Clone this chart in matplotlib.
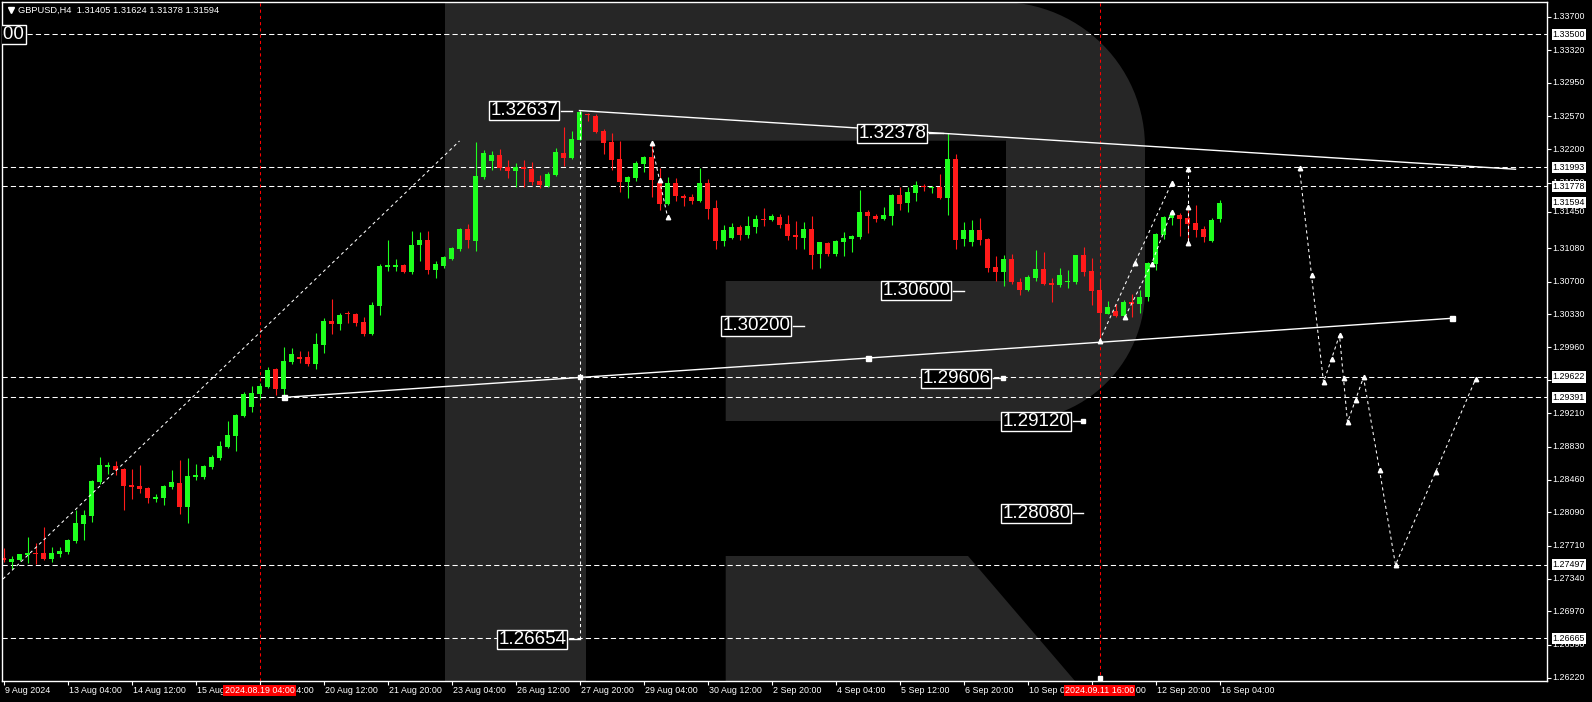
import matplotlib
matplotlib.use("Agg")
import numpy as np
import matplotlib.pyplot as plt
from matplotlib import font_manager
from matplotlib.patches import Polygon

# GBPUSD H4 candles (bar index = position from the left)
opens = [1.27577, 1.27531, 1.27551, 1.27607, 1.27630, 1.27630, 1.27562, 1.27619, 1.27641, 1.27765,
         1.27958, 1.28049, 1.28434, 1.28604, 1.28616, 1.28582, 1.28400, 1.28389, 1.28366, 1.28241,
         1.28253, 1.28377, 1.28423, 1.28151, 1.28491, 1.28491, 1.28604, 1.28705, 1.28830, 1.28954,
         1.29180, 1.29282, 1.29430, 1.29508, 1.29713, 1.29486, 1.29792, 1.29849, 1.29849, 1.29768,
         1.29984, 1.30255, 1.30221, 1.30346, 1.30334, 1.30244, 1.30107, 1.30424, 1.30866, 1.30866,
         1.30889, 1.30810, 1.31116, 1.31172, 1.30832, 1.30878, 1.30957, 1.31070, 1.31297, 1.31160,
         1.31885, 1.32066, 1.32134, 1.31998, 1.31953, 1.31998, 1.31975, 1.31839, 1.31783, 1.31907,
         1.32156, 1.32099, 1.32303, 1.32593, 1.32576, 1.32406, 1.32281, 1.32089, 1.31829, 1.31874,
         1.32032, 1.32112, 1.31818, 1.31580, 1.31818, 1.31670, 1.31659, 1.31614, 1.31818, 1.31534,
         1.31160, 1.31194, 1.31319, 1.31228, 1.31319, 1.31410, 1.31398, 1.31432, 1.31353, 1.31228,
         1.31194, 1.31296, 1.31014, 1.31137, 1.31014, 1.31149, 1.31183, 1.31205, 1.31489, 1.31444,
         1.31410, 1.31444, 1.31682, 1.31591, 1.31704, 1.31784, 1.31761, 1.31772, 1.31648, 1.32089,
         1.31183, 1.31149, 1.31285, 1.31183, 1.30867, 1.30810, 1.30957, 1.30697, 1.30606, 1.30743,
         1.30844, 1.30686, 1.30663, 1.30697, 1.30697, 1.31002, 1.30822, 1.30606, 1.30335, 1.30368,
         1.30312, 1.30470, 1.30448, 1.30527, 1.30901, 1.31228, 1.31421, 1.31455, 1.31421, 1.31364,
         1.31296, 1.31160, 1.31405]
highs = [1.27687, 1.27596, 1.27624, 1.27811, 1.27743, 1.27925, 1.27698, 1.27698, 1.27784, 1.28117,
         1.28117, 1.28460, 1.28718, 1.28661, 1.28672, 1.28593, 1.28582, 1.28627, 1.28373, 1.28298,
         1.28400, 1.28570, 1.28684, 1.28706, 1.28638, 1.28627, 1.28740, 1.28898, 1.29125, 1.29203,
         1.29452, 1.29520, 1.29554, 1.29735, 1.29720, 1.29962, 1.29951, 1.29917, 1.29917, 1.30120,
         1.30290, 1.30504, 1.30346, 1.30368, 1.30346, 1.30300, 1.30470, 1.30900, 1.31172, 1.30957,
         1.30900, 1.31275, 1.31263, 1.31275, 1.30934, 1.30991, 1.31093, 1.31309, 1.31354, 1.32283,
         1.32191, 1.32180, 1.32202, 1.32078, 1.32044, 1.32078, 1.32055, 1.31907, 1.31941, 1.32214,
         1.32451, 1.32405, 1.32637, 1.32606, 1.32599, 1.32429, 1.32383, 1.32292, 1.31897, 1.32066,
         1.32120, 1.32247, 1.31987, 1.31886, 1.31874, 1.31693, 1.31693, 1.31987, 1.31863, 1.31625,
         1.31342, 1.31364, 1.31342, 1.31444, 1.31455, 1.31534, 1.31466, 1.31466, 1.31455, 1.31387,
         1.31376, 1.31444, 1.31155, 1.31149, 1.31171, 1.31262, 1.31228, 1.31738, 1.31512, 1.31466,
         1.31546, 1.31693, 1.31772, 1.31772, 1.31840, 1.31806, 1.31784, 1.31920, 1.32378, 1.32145,
         1.31376, 1.31398, 1.31421, 1.31190, 1.30991, 1.31002, 1.31014, 1.30743, 1.30776, 1.31059,
         1.31036, 1.30743, 1.30855, 1.30833, 1.31008, 1.31093, 1.30968, 1.30731, 1.30482, 1.30448,
         1.30493, 1.30561, 1.30606, 1.30923, 1.31251, 1.31444, 1.31500, 1.31478, 1.31512, 1.31568,
         1.31330, 1.31421, 1.31624]
lows = [1.27528, 1.27452, 1.27544, 1.27517, 1.27505, 1.27551, 1.27531, 1.27588, 1.27622, 1.27742,
        1.27776, 1.27981, 1.28411, 1.28525, 1.28513, 1.28117, 1.28241, 1.28309, 1.28196, 1.28207,
        1.28173, 1.28355, 1.28071, 1.27969, 1.28457, 1.28468, 1.28582, 1.28683, 1.28823, 1.28784,
        1.29168, 1.29225, 1.29372, 1.29500, 1.29418, 1.29391, 1.29769, 1.29781, 1.29747, 1.29712,
        1.29893, 1.30107, 1.30153, 1.30232, 1.30198, 1.30085, 1.30098, 1.30322, 1.30821, 1.30821,
        1.30798, 1.30787, 1.30934, 1.30787, 1.30741, 1.30855, 1.30946, 1.31048, 1.31082, 1.31047,
        1.31862, 1.31964, 1.31964, 1.31873, 1.31771, 1.31771, 1.31794, 1.31760, 1.31775, 1.31896,
        1.32009, 1.32092, 1.32303, 1.32519, 1.32379, 1.32146, 1.31964, 1.31718, 1.31648, 1.31840,
        1.31941, 1.31659, 1.31512, 1.31568, 1.31614, 1.31557, 1.31580, 1.31605, 1.31410, 1.31070,
        1.31103, 1.31188, 1.31171, 1.31194, 1.31251, 1.31330, 1.31392, 1.31308, 1.31171, 1.31070,
        1.31070, 1.30844, 1.30855, 1.30991, 1.30991, 1.30991, 1.31036, 1.31183, 1.31251, 1.31376,
        1.31404, 1.31342, 1.31512, 1.31489, 1.31614, 1.31727, 1.31704, 1.31636, 1.31455, 1.31070,
        1.31103, 1.31103, 1.31115, 1.30810, 1.30709, 1.30652, 1.30674, 1.30550, 1.30600, 1.30709,
        1.30663, 1.30470, 1.30641, 1.30629, 1.30674, 1.30765, 1.30436, 1.30030, 1.30330, 1.30300,
        1.30305, 1.30300, 1.30346, 1.30482, 1.30833, 1.31183, 1.31342, 1.31217, 1.31137, 1.31205,
        1.31149, 1.31155, 1.31378]
closes = [1.27551, 1.27562, 1.27619, 1.27633, 1.27619, 1.27562, 1.27630, 1.27653, 1.27777, 1.27969,
          1.28060, 1.28449, 1.28627, 1.28627, 1.28570, 1.28389, 1.28377, 1.28355, 1.28253, 1.28267,
          1.28389, 1.28434, 1.28151, 1.28502, 1.28513, 1.28616, 1.28718, 1.28841, 1.28966, 1.29192,
          1.29430, 1.29440, 1.29520, 1.29701, 1.29486, 1.29803, 1.29883, 1.29826, 1.29769, 1.29995,
          1.30256, 1.30221, 1.30323, 1.30334, 1.30232, 1.30107, 1.30436, 1.30878, 1.30889, 1.30889,
          1.30810, 1.31116, 1.31172, 1.30832, 1.30900, 1.30980, 1.31082, 1.31297, 1.31172, 1.31897,
          1.32157, 1.32134, 1.31987, 1.31953, 1.31998, 1.31975, 1.31828, 1.31794, 1.31919, 1.32168,
          1.32099, 1.32315, 1.32622, 1.32582, 1.32394, 1.32273, 1.32081, 1.31832, 1.31886, 1.32044,
          1.32112, 1.31851, 1.31580, 1.31818, 1.31670, 1.31648, 1.31614, 1.31818, 1.31523, 1.31160,
          1.31285, 1.31319, 1.31228, 1.31330, 1.31410, 1.31402, 1.31444, 1.31342, 1.31217, 1.31205,
          1.31296, 1.31002, 1.31149, 1.31014, 1.31160, 1.31194, 1.31217, 1.31489, 1.31444, 1.31410,
          1.31455, 1.31682, 1.31580, 1.31716, 1.31795, 1.31772, 1.31772, 1.31648, 1.32089, 1.31171,
          1.31285, 1.31285, 1.31171, 1.30855, 1.30810, 1.30957, 1.30697, 1.30606, 1.30754, 1.30844,
          1.30674, 1.30663, 1.30776, 1.30709, 1.31002, 1.30810, 1.30595, 1.30346, 1.30414, 1.30312,
          1.30470, 1.30448, 1.30527, 1.30912, 1.31239, 1.31432, 1.31455, 1.31410, 1.31353, 1.31285,
          1.31205, 1.31398, 1.31594]

time_labels = ["9 Aug 2024", "13 Aug 04:00", "14 Aug 12:00", "15 Aug 20:00", "19 Aug 04:00",
               "20 Aug 12:00", "21 Aug 20:00", "23 Aug 04:00", "26 Aug 12:00", "27 Aug 20:00",
               "29 Aug 04:00", "30 Aug 12:00", "2 Sep 20:00", "4 Sep 04:00", "5 Sep 12:00",
               "6 Sep 20:00", "10 Sep 04:00", "11 Sep 12:00", "12 Sep 20:00", "16 Sep 04:00"]
time_bars = list(range(0, 160, 8))
cursor_bars = [32, 137]
cursor_labels = ["2024.08.19 04:00", "2024.09.11 16:00"]

price_ticks = [1.33700, 1.33320, 1.32950, 1.32570, 1.32200, 1.31820, 1.31490, 1.31080, 1.30700,
               1.30330, 1.29960, 1.29590, 1.29210, 1.28830, 1.28460, 1.28090, 1.27710, 1.27340,
               1.26970, 1.26590, 1.26220]
tick_texts = ["1.33700", "1.33320", "1.32950", "1.32570", "1.32200", "1.31820", "1.31450", "1.31080",
              "1.30700", "1.30330", "1.29960", "1.29590", "1.29210", "1.28830", "1.28460", "1.28090",
              "1.27710", "1.27340", "1.26970", "1.26590", "1.26220"]

levels = [1.33500, 1.31993, 1.31778, 1.29622, 1.29391, 1.27497, 1.26665]
last_price = 1.31594

# boxed price notes on the chart
note_texts = ["1.32637", "1.32378", "1.30600", "1.30200", "1.29606", "1.29120", "1.28080", "1.26654"]
note_prices = [1.32637, 1.32378, 1.30600, 1.30200, 1.29606, 1.29120, 1.28080, 1.26654]
note_bars = [65.1, 111.1, 114.1, 94.1, 119.1, 129.1, 129.1, 66.1]
note_ends = [71.1, 117.4, 120.0, 100.0, 124.9, 134.9, 134.9, 72.0]

# trend lines (bar, price)
upper_bars, upper_prices = [72, 189], [1.32637, 1.31973]
lower_bars, lower_prices = [35, 108, 181], [1.29391, 1.29836, 1.30286]
rise_bars, rise_prices = [-0.06, 57.0], [1.27336, 1.32293]
drop_bars, drop_prices = [72, 72], [1.32637, 1.26654]

# forecast zigzags
fc_small_bars, fc_small_prices = [81, 82, 83], [1.32267, 1.31851, 1.31436]
fc_a_bars, fc_a_prices = [137, 141.4, 146], [1.30029, 1.30909, 1.31814]
fc_b_bars, fc_b_prices = [140.2, 143.5, 146], [1.30304, 1.30901, 1.31493]
fc_v_bars, fc_v_prices = [148, 148, 148], [1.31972, 1.31549, 1.31135]
fc_bars = [162, 163.5, 165, 166, 167, 167.5, 168, 169, 170, 172, 174, 179, 184]
fc_prices = [1.31984, 1.30776, 1.29562, 1.29826, 1.30097, 1.29607, 1.29109, 1.29362, 1.29619,
             1.28570, 1.27495, 1.28544, 1.29596]

GREEN = "#1eff1e"
RED = "#ff1a1a"
GREY = "#262626"

names = {f.name for f in font_manager.fontManager.ttflist}
if "Liberation Sans Narrow" in names:
    big_font, big_size = "Liberation Sans Narrow", 16.5
else:
    big_font, big_size = "Liberation Sans", 13.5
small_font = ["Liberation Sans", "DejaVu Sans"]
small_size = 6.4

W, H = 1592, 702
L, R, T, B = 2, 1547, 2, 681


def y_price(y):
    return 1.338881 - 0.00011316 * y


def x_bar(x):
    return (x - 3.5) / 8.0


fig = plt.figure(figsize=(W / 100, H / 100), dpi=100, facecolor="black")
ax = fig.add_axes([L / W, 1 - B / H, (R - L) / W, (B - T) / H])
ax.set_facecolor("black")
ax.set_xlim(x_bar(L), x_bar(R))
ax.set_ylim(y_price(B), y_price(T))


# watermark "R" (pixel outline -> axes fraction)
def frac(pts):
    return [((x - L) / (R - L), 1 - (y - T) / (B - T)) for x, y in pts]


def arc(cx, cy, r, a0, a1, n=30):
    a = np.radians(np.linspace(a0, a1, n))
    return list(zip(cx + r * np.cos(a), cy - r * np.sin(a)))


stem = [(445, 2), (586, 2), (586, 681), (445, 681)]
bowl = ([(586, 2)] + arc(1000, 147, 145, 90, 0) + arc(1014, 290, 131, 0, -90)
        + [(725.7, 421), (725.7, 281), (1006, 281), (1006, 140.7), (586, 140.7)])
leg = [(725.7, 556), (968, 556), (1075, 681), (725.7, 681)]
for shape in (stem, bowl, leg):
    ax.add_patch(Polygon(frac(shape), closed=True, transform=ax.transAxes,
                         facecolor=GREY, edgecolor="none", zorder=0))

# horizontal levels
for lv in levels:
    ax.axhline(lv, color="white", lw=0.75, ls=(0, (5, 3)), zorder=1)

# cursor lines
for cb in cursor_bars:
    ax.axvline(cb, color="#ff0000", lw=0.75, ls=(0, (3, 3)), zorder=1)

# candles
idx = np.arange(len(opens))
o = np.array(opens)
c = np.array(closes)
hi = np.maximum(np.array(highs), np.maximum(o, c))
lo = np.minimum(np.array(lows), np.minimum(o, c))
cols = [GREEN if cc >= oo else RED for oo, cc in zip(o, c)]
ax.vlines(idx, lo, hi, colors=cols, lw=0.8, zorder=2)
ax.bar(idx, np.maximum(np.abs(c - o), 0.00009), bottom=np.minimum(o, c), width=0.62,
       color=cols, linewidth=0, zorder=2)

# trend lines
ax.plot(upper_bars, upper_prices, color="white", lw=1.0, zorder=3)
ax.plot(lower_bars, lower_prices, color="white", lw=1.0, zorder=3)
ax.plot(lower_bars, lower_prices, ls="none", marker="s", ms=3.6, color="white", zorder=3)
ax.plot(rise_bars, rise_prices, color="white", lw=0.75, ls=(0, (3, 3)), zorder=3)
ax.plot(drop_bars, drop_prices, color="white", lw=0.75, ls=(0, (3, 3)), zorder=3)
ax.plot([72], [1.29622], ls="none", marker="s", ms=2.6, color="white", zorder=3)

for bx, py in [(fc_small_bars, fc_small_prices), (fc_a_bars, fc_a_prices),
               (fc_b_bars, fc_b_prices), (fc_v_bars, fc_v_prices), (fc_bars, fc_prices)]:
    ax.plot(bx, py, color="white", lw=0.75, ls=(0, (3, 3)), zorder=3)
    ax.plot(bx, py, ls="none", marker="^", ms=3.2, color="white", zorder=3)

# boxed notes
for t, cx, py, ex in zip(note_texts, note_bars, note_prices, note_ends):
    ax.plot([cx + 4.6, ex], [py, py], color="white", lw=1.0, zorder=4)
    ax.text(cx, py, t, ha="center", va="center", color="white", fontsize=big_size,
            family=big_font, zorder=5,
            bbox=dict(boxstyle="square,pad=0.06", facecolor="black", edgecolor="white", lw=1.0))
for bx, py in [(124.9, 1.29606), (134.9, 1.29120)]:
    ax.plot([bx], [py], ls="none", marker="s", ms=2.6, color="white", zorder=4)

# the 1.33500 note cut by the left edge
ax.text(x_bar(24.5), levels[0], "1.33500", ha="right", va="center", color="white",
        fontsize=big_size, family=big_font, zorder=5, clip_on=True,
        bbox=dict(boxstyle="square,pad=0.06", facecolor="black", edgecolor="white", lw=1.0))

# header
ax.plot([0.0058], [0.9875], marker="v", ms=4.2, color="white", transform=ax.transAxes,
        clip_on=False, zorder=6)
ax.text(0.0105, 0.9875, "GBPUSD,H4  1.31405 1.31624 1.31378 1.31594", transform=ax.transAxes,
        ha="left", va="center", color="white", fontsize=6.7, family=small_font, zorder=6)

# axes frame & ticks
for sp in ax.spines.values():
    sp.set_color("white")
    sp.set_linewidth(1.0)
ax.set_xticks(time_bars)
ax.set_xticklabels([])
ax.yaxis.tick_right()
ax.set_yticks(price_ticks)
ax.set_yticklabels([])
ax.tick_params(axis="both", colors="white", length=3, width=0.8, direction="out")

xt = ax.get_xaxis_transform()
ax.plot([cursor_bars[1]], [0.004], transform=xt, ls="none", marker="s", ms=2.4,
        color="white", zorder=6, clip_on=False)
for tb, lab in zip(time_bars, time_labels):
    ax.text(tb + 0.2, -0.0143, lab, transform=xt, ha="left", va="center", color="white",
            fontsize=small_size, family=small_font, clip_on=False)
for cb, lab in zip(cursor_bars, cursor_labels):
    ax.text(cb, -0.0143, lab, transform=xt, ha="center", va="center", color="white",
            fontsize=small_size, family=small_font, clip_on=False, zorder=7,
            bbox=dict(boxstyle="square,pad=0.12", facecolor="#ff0000", edgecolor="none"))

yt = ax.get_yaxis_transform()
for pt, lab in zip(price_ticks, tick_texts):
    ax.text(1.0037, pt, lab, transform=yt, ha="left", va="center", color="white",
            fontsize=small_size, family=small_font, clip_on=False)
for lv in levels + [last_price]:
    ax.text(1.0037, lv, "%.5f" % lv, transform=yt, ha="left", va="center", color="black",
            fontsize=small_size, family=small_font, clip_on=False, zorder=7,
            bbox=dict(boxstyle="square,pad=0.12", facecolor="white", edgecolor="none"))

fig.savefig("out.png", dpi=100, facecolor="black")
